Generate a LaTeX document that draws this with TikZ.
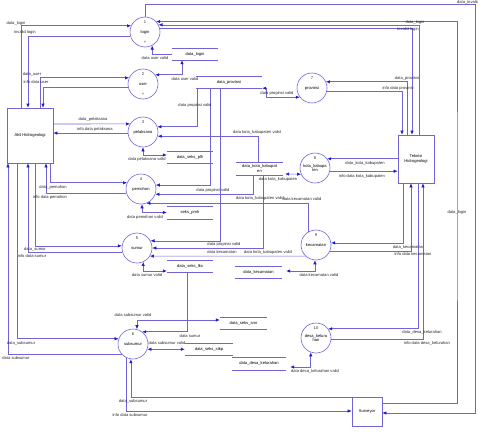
\documentclass[tikz,border=0pt]{standalone}
\usepackage{fontspec}
\setmainfont{Liberation Sans}
\usetikzlibrary{arrows.meta}
\definecolor{flowline}{RGB}{112,100,215}
\definecolor{flowtip}{RGB}{25,25,205}
\newcommand{\dfdFont}[0]{\fontsize{4.1}{4.7}\selectfont}

\begin{document}
\begin{tikzpicture}[x=1pt, y=-1pt, >={Latex[length=4pt,width=3.4pt,color=flowtip]}]
  \tikzset{
    proc/.style={circle, draw=flowline, line width=0.6pt, minimum size=30pt, inner sep=0pt, font=\dfdFont, align=center},
    entity/.style={rectangle, draw=flowline, line width=0.6pt, inner sep=0pt, font=\dfdFont, align=center},
    store/.style={inner sep=0pt, minimum height=12pt, font=\dfdFont, align=center},
    flow/.style={draw=flowline, line width=0.6pt},
    lbl/.style={font=\dfdFont, inner sep=0pt, text=black!85}
  }
  \useasboundingbox (0,0) rectangle (478,431);

  % processes
  \node[proc] (login) at (145,32) {login};
  \node[proc] (user) at (143,84) {user};
  \node[proc] (pelaksana) at (143,132) {pelaksana};
  \node[proc] (pemohon) at (141,189) {pemohon};
  \node[proc] (sumur) at (137,248) {sumur};
  \node[proc] (subsumur) at (133,344) {subsumur};
  \node[proc] (provinsi) at (312,88) {provinsi};
  \node[proc] (kota) at (315,168) {kota\_kabupa\\ten};
  \node[proc] (kecamatan) at (316,245) {kecamatan};
  \node[proc] (desa) at (316,338) {desa\_kelura\\han};
  \foreach \p/\n in {login/1,user/2,pelaksana/3,pemohon/4,sumur/5,subsumur/6,provinsi/7,kota/8,kecamatan/9,desa/10}
    \node[lbl] (\p-num) at ([yshift=-5pt]\p.north) {\n};
  \node[lbl] (login-plus) at ([yshift=5pt]login.south) {+};
  \node[lbl] (user-plus) at ([yshift=5pt]user.south) {+};

  % external entities
  \node[entity, minimum width=46pt, minimum height=55pt] (ahli) at (30,135.5) {Ahli Hidrogeologi};
  \node[entity, minimum width=36pt, minimum height=48pt] (teknisi) at (416,159) {Teknisi\\Hidrogeologi};
  \node[entity, minimum width=30pt, minimum height=29pt] (surveyor) at (367,411.5) {Surveyor};

  % data stores
  \node[store, minimum width=46pt] (stlogin) at (195,54) {data\_login};
  \node[store, minimum width=66pt] (stprov) at (229,82) {data\_provinsi};
  \node[store, minimum width=46pt] (stplh) at (190,157) {data\_seks\_plh};
  \node[store, minimum width=46pt, minimum height=13pt] (stpmh) at (190,212.5) {seks\_pmh};
  \node[store, minimum width=46pt] (stlks) at (190,266) {data\_seks\_lks};
  \node[store, minimum width=47pt, minimum height=13pt] (stkota) at (259.5,168.5) {data\_kota\_kabupat\\en};
  \node[store, minimum width=47pt] (stkec) at (258.5,272) {data\_kecamatan};
  \node[store, minimum width=47pt] (stsmr) at (243.5,323) {data\_seks\_smr};
  \node[store, minimum width=48pt] (ststkp) at (209,349) {data\_seks\_stkp};
  \node[store, minimum width=54pt, minimum height=13pt] (stdesa) at (259,363.5) {data\_desa\_kelurahan};
  \foreach \s in {stlogin,stprov,stplh,stpmh,stlks,stkota,stkec,stsmr,ststkp,stdesa}
    \draw[flow] (\s.north west) -- (\s.north east) (\s.south west) -- (\s.south east);

  % rails on the right
  \coordinate (railinv) at (475,4);
  \coordinate (raillog) at (457,200);

  % login
  \draw[flow,->] (login.north) |- (railinv) |- ([yshift=-1.5pt]surveyor.east);
  \draw[flow,<-] (login.43) -| (raillog) |- ([yshift=-7pt]surveyor.north east);
  \draw[flow,->] ([xshift=3pt]teknisi.north) |- (login.28);
  \draw[flow,->] (login.15) -| ([xshift=-4pt]teknisi.north);
  \draw[flow,->] ([xshift=-9pt]ahli.north) |- (login.156);
  \draw[flow,->] (login.196) -| ([xshift=-2pt]ahli.north);
  \draw[flow,->] (stlogin.west) -| (login.-62);

  % user
  \draw[flow,->] ([xshift=10pt]ahli.north) |- (user.156);
  \draw[flow,->] (user.192) -| ([xshift=13pt]ahli.north);
  \draw[flow,<->] (user.37) -| ([xshift=-13pt]stlogin.south);

  % pelaksana
  \draw[flow,->] ([yshift=11.5pt]ahli.east) -- (pelaksana.148);
  \draw[flow,->] (pelaksana.184) -- (ahli.east |- pelaksana.184);
  \draw[flow,->] ([xshift=1pt]stprov.south west) |- (pelaksana.20);
  \draw[flow,->] ([xshift=-1.5pt]stkota.north) |- (pelaksana.-16);
  \draw[flow,<->] (pelaksana.south) |- ([yshift=2pt]stplh.west);

  % pemohon
  \draw[flow,->] ([xshift=20pt]ahli.south) |- (pemohon.156);
  \draw[flow,->] (pemohon.196) -| ([xshift=16pt]ahli.south);
  \draw[flow,->] ([xshift=-19pt]stprov.south) |- (pemohon.15);
  \draw[flow,->] ([xshift=-6.5pt]stkota.south) |- (pemohon.-20);
  \draw[flow,->] (kecamatan.122) |- (pemohon.-69);
  \draw[flow,<->] (pemohon.-86) |- (stpmh.west);

  % sumur
  \draw[flow,->] ([xshift=5pt]ahli.south) |- (sumur.172);
  \draw[flow,->] (sumur.196) -| ([xshift=-2pt]ahli.south);
  \draw[flow,->] ([xshift=-9pt]stprov.south) |- (sumur.28);
  \draw[flow,->] ([xshift=3.5pt]stkota.south) |- (sumur.east);
  \draw[flow,->] (kecamatan.227) -- (sumur.-32);
  \draw[flow,<->] (sumur.-66) |- ([yshift=-5pt]stlks.west);
  \draw[flow,->] ([xshift=-3pt]stlks.south) |- (subsumur.53);

  % subsumur
  \draw[flow,->] ([xshift=-13pt]ahli.south) |- (subsumur.160);
  \draw[flow,->] (subsumur.222) -| ([xshift=-22pt]ahli.south);
  \draw[flow,<->] (subsumur.75) |- ([yshift=3pt]stsmr.west);
  \draw[flow,<->] (subsumur.-20) -- (ststkp.west |- subsumur.-20);
  \draw[flow,->] ([yshift=-1pt]surveyor.north west) -| (subsumur.-98);
  \draw[flow,->] (subsumur.-118) |- ([yshift=0.5pt]surveyor.west);

  % provinsi
  \draw[flow,->] ([xshift=-9pt]teknisi.north) |- (provinsi.24);
  \draw[flow,->] (provinsi.-12) -| ([xshift=-14pt]teknisi.north);
  \draw[flow,<->] (stprov.south east) -- ++(4,0) |- (provinsi.217);

  % kota_kabupaten
  \draw[flow,->] (teknisi.west |- kota.37) -- (kota.37);
  \draw[flow,->] (kota.-12) -- (teknisi.west |- kota.-12);
  \draw[flow,<->] ([xshift=2pt,yshift=-5.5pt]stkota.east) -- (kota.204);

  % kecamatan
  \draw[flow,->] ([xshift=-13pt]teknisi.south) |- (kecamatan.8);
  \draw[flow,->] (kecamatan.-24) -| ([xshift=-5pt]teknisi.south);
  \draw[flow,<->] (kecamatan.-94) |- ([xshift=4pt,yshift=1pt]stkec.east);

  % desa_kelurahan
  \draw[flow,->] ([xshift=2pt]teknisi.south) |- (desa.37);
  \draw[flow,->] (desa.-4) -| ([xshift=7pt]teknisi.south);
  \draw[flow,<->] (desa.-110) |- ([xshift=4pt,yshift=-3.5pt]stdesa.east);

  % flow labels
  \node[lbl] (l1) at (16,23) {data\_login};
  \node[lbl] (l2) at (25,32) {invalid login};
  \node[lbl] (l3) at (32,74) {data\_user};
  \node[lbl] (l4) at (36,82) {info data user};
  \node[lbl] (l5) at (155,58) {data user valid};
  \node[lbl] (l6) at (185,79) {data user valid};
  \node[lbl] (l7) at (195,105) {data propinsi valid};
  \node[lbl] (l8) at (277,93) {data propinsi valid};
  \node[lbl] (l9) at (407,78) {data\_provinsi};
  \node[lbl] (l10) at (398,88) {info data provinsi};
  \node[lbl] (l11) at (415,22) {data\_login};
  \node[lbl] (l12) at (408,29) {invalid login};
  \node[lbl] (l13) at (468,2) {data\_invalid};
  \node[lbl] (l14) at (457,212) {data\_login};
  \node[lbl] (l15) at (93,119) {data\_pelaksana};
  \node[lbl] (l16) at (95,129) {info data pelaksana};
  \node[lbl] (l17) at (257,132) {data kota\_kabupaten valid};
  \node[lbl] (l18) at (147,159) {data pelaksana valid};
  \node[lbl] (l19) at (53,187) {data\_pemohon};
  \node[lbl] (l20) at (50,197) {info data pemohon};
  \node[lbl] (l21) at (213,190) {data propinsi valid};
  \node[lbl] (l22) at (260,198) {data kota\_kabupaten valid};
  \node[lbl] (l23) at (302,199) {data kecamatan valid};
  \node[lbl] (l24) at (145,217) {data pemohon valid};
  \node[lbl] (l25) at (278,179) {data kota\_kabupaten};
  \node[lbl] (l26) at (365,163) {data\_kota\_kabupaten};
  \node[lbl] (l27) at (362,176) {info data kota\_kabupaten};
  \node[lbl] (l28) at (224,244) {data propinsi valid};
  \node[lbl] (l29) at (222,252) {data kecamatan};
  \node[lbl] (l30) at (268,252) {data kota\_kabupaten valid};
  \node[lbl] (l31) at (35,249) {data\_sumur};
  \node[lbl] (l32) at (32,256) {info data sumur};
  \node[lbl] (l33) at (147,275) {data sumur valid};
  \node[lbl] (l34) at (408,247) {data\_kecamatan};
  \node[lbl] (l35) at (413,254) {info data kecamatan};
  \node[lbl] (l36) at (319,275) {data kecamatan valid};
  \node[lbl] (l37) at (133,315) {data subsumur valid};
  \node[lbl] (l38) at (190,336) {data sumur};
  \node[lbl] (l39) at (21,343) {data\_subsumur};
  \node[lbl] (l40) at (16,358) {data subsumur};
  \node[lbl] (l41) at (167,343) {data subsumur valid};
  \node[lbl] (l42) at (422,332) {data\_desa\_kelurahan};
  \node[lbl] (l43) at (427,343) {info data desa\_kelurahan};
  \node[lbl] (l44) at (315,371) {data desa\_kelurahan valid};
  \node[lbl] (l45) at (133,401) {data\_subsumur};
  \node[lbl] (l46) at (130,415) {info data subsumur};
\end{tikzpicture}
\end{document}
